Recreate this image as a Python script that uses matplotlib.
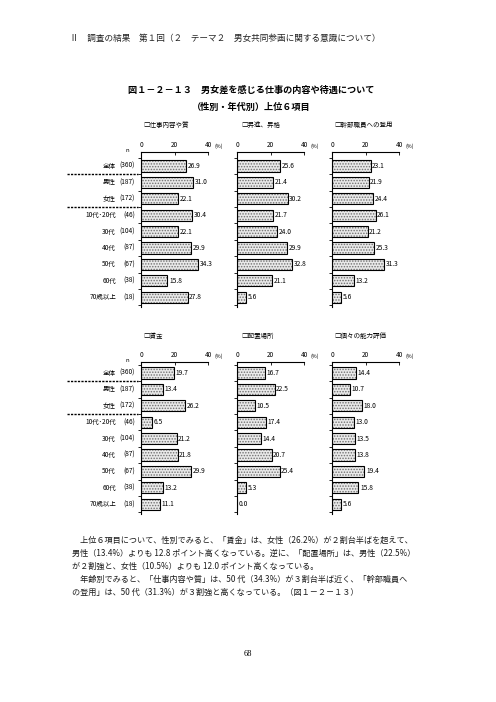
import numpy as np
import matplotlib
matplotlib.use("Agg")
import matplotlib.pyplot as plt
from matplotlib.transforms import blended_transform_factory

plt.rcParams['font.family'] = ['Noto Sans CJK JP', 'DejaVu Sans']
plt.rcParams['hatch.linewidth'] = 0.7

# --- データ ---
groups = ["全体", "男性", "女性", "10代･20代", "30代", "40代", "50代", "60代", "70歳以上"]
n_vals = ["(360)", "(187)", "(172)", "(46)", "(104)", "(87)", "(67)", "(38)", "(18)"]

titles = ["□仕事内容や質", "□昇進、昇格", "□幹部職員への登用",
          "□賃金", "□配置場所", "□個々の能力評価"]
shigoto = [26.9, 31.0, 22.1, 30.4, 22.1, 29.9, 34.3, 15.8, 27.8]
shoshin = [25.6, 21.4, 30.2, 21.7, 24.0, 29.9, 32.8, 21.1, 5.6]
kanbu = [23.1, 21.9, 24.4, 26.1, 21.2, 25.3, 31.3, 13.2, 5.6]
chingin = [19.7, 13.4, 26.2, 6.5, 21.2, 21.8, 29.9, 13.2, 11.1]
haichi = [16.7, 22.5, 10.5, 17.4, 14.4, 20.7, 25.4, 5.3, 0.0]
noryoku = [14.4, 10.7, 18.0, 13.0, 13.5, 13.8, 19.4, 15.8, 5.6]
series = [shigoto, shoshin, kanbu, chingin, haichi, noryoku]
xticks = [0, 20, 40]

header = "Ⅱ　調査の結果　第１回（２　テーマ２　男女共同参画に関する意識について）"
title1 = "図１－２－１３　男女差を感じる仕事の内容や待遇について"
title2 = "（性別・年代別）上位６項目"
body = [
    "　上位６項目について、性別でみると、「賃金」は、女性（26.2%）が２割台半ばを超えて、",
    "男性（13.4%）よりも 12.8 ポイント高くなっている。逆に、「配置場所」は、男性（22.5%）",
    "が２割強と、女性（10.5%）よりも 12.0 ポイント高くなっている。",
    "　年齢別でみると、「仕事内容や質」は、50 代（34.3%）が３割台半ば近く、「幹部職員へ",
    "の登用」は、50 代（31.3%）が３割強と高くなっている。（図１－２－１３）",
]
page_no = "68"

# --- レイアウト (ピクセル) ---
W, H = 496, 702
fig = plt.figure(figsize=(W / 100, H / 100), dpi=100)
fig.patch.set_facecolor("white")

def fx(px):
    return px / W

def fy(py):
    return 1 - py / H

col_x0 = [141, 237, 332]
x_span = 67
# (axis line y, first bar center, spacing, bottom)
rows = [(152, 166, 16.4, 307), (362, 373, 16.4, 514)]
title_y = [125, 336]
title_x = [143, 241, 334]

fig.text(fx(70), fy(38), header, fontsize=6.2, va="center", ha="left", color="#222")
fig.text(fx(251), fy(90), title1, fontsize=6.6, fontweight="bold", ha="center", va="center")
fig.text(fx(251), fy(107), title2, fontsize=6.6, fontweight="bold", ha="center", va="center")

pos = np.arange(len(groups))

for k, vals in enumerate(series):
    r, c = divmod(k, 3)
    top, first, step, bottom = rows[r]
    x0 = col_x0[c]
    ax = fig.add_axes([fx(x0), fy(bottom), x_span / W, (bottom - top) / H])
    ylo = -(first - top) / step
    yhi = (len(groups) - 1) + (bottom - (first + step * (len(groups) - 1))) / step
    ax.set_xlim(0, 40)
    ax.set_ylim(yhi, ylo)

    ax.barh(pos, vals, height=0.68, color="#e9e9e9", hatch="......",
            edgecolor="#707070", linewidth=0)
    ax.barh(pos, vals, height=0.68, fill=False, edgecolor="black", linewidth=0.8)
    for i, v in enumerate(vals):
        ax.text(v + 0.9, i, f"{v:.1f}", va="center", ha="left", fontsize=4.8)

    for s in ["right", "bottom"]:
        ax.spines[s].set_visible(False)
    ax.spines["left"].set_linewidth(0.8)
    ax.spines["top"].set_linewidth(0.8)
    ax.xaxis.tick_top()
    ax.set_xticks(xticks)
    ax.set_xticklabels([str(t) for t in xticks])
    ax.tick_params(axis="x", direction="in", length=2, width=0.6, labelsize=4.6, pad=2)
    ax.set_yticks(np.arange(-0.5, len(groups), 1))
    ax.set_yticklabels([])
    ax.tick_params(axis="y", direction="out", length=2, width=0.6)
    ax.annotate("(%)", xy=(1, 1), xycoords="axes fraction", xytext=(4.5, 2.0),
                textcoords="offset points", fontsize=3.8, va="bottom", ha="left")

    fig.text(fx(title_x[c]), fy(title_y[r]), titles[k], fontsize=4.7, va="center", ha="left")

    if c == 0:
        tr = blended_transform_factory(fig.transFigure, ax.transData)
        for i, g in enumerate(groups):
            ax.text(fx(116), i, g, transform=tr, ha="right", va="center", fontsize=4.7)
            ax.text(fx(135), i, n_vals[i], transform=tr, ha="right", va="center", fontsize=4.7)
        ax.text(fx(127), ylo - 0.1, "n", transform=tr, ha="center", va="center", fontsize=4.3)
        for yb in [0.5, 2.5]:
            ax.plot([fx(67), fx(138)], [yb, yb], transform=tr, color="black",
                    linestyle=(0, (1.6, 0.9)), linewidth=1.0, clip_on=False)

body_y = [540, 553, 566, 579, 592]
for line, yy in zip(body, body_y):
    fig.text(fx(72), fy(yy), line, fontsize=5.85, va="center", ha="left", color="#1a1a1a")

fig.text(fx(248), fy(654), page_no, fontsize=6.0, ha="center", va="center",
         family=["Liberation Serif", "DejaVu Serif"])

fig.savefig("out.png", dpi=100)
